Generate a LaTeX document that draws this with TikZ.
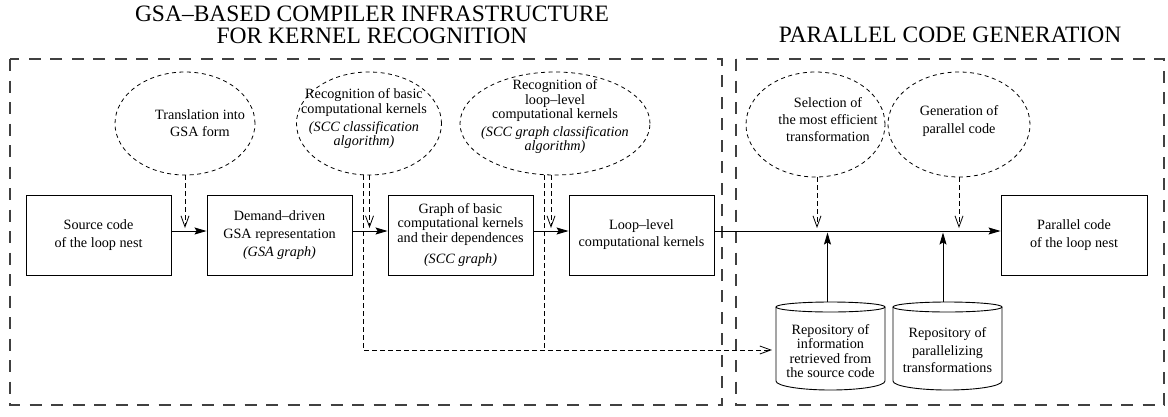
\documentclass[tikz,border=0pt]{standalone}
\usepackage{fontspec}
\setmainfont{Liberation Serif}
\usetikzlibrary{arrows.meta,shapes.geometric}
\begin{document}
\begin{tikzpicture}[x=1pt,y=-1pt,
  txt/.style={font=\fontsize{14.2}{14.5}\selectfont, align=center, inner sep=0pt},
  box/.style={draw, line width=0.9pt, minimum width=145pt, minimum height=80pt, inner sep=0pt, font=\fontsize{14.2}{14.5}\selectfont, align=center},
  bubble/.style={draw, ellipse, dash pattern=on 4pt off 3.5pt, line width=0.8pt, inner sep=0pt},
  frame/.style={draw=black!75, line width=1.1pt, dash pattern=on 12pt off 9.5pt},
  flow/.style={line width=0.9pt, -{Stealth[length=12pt,width=7pt,inset=2pt]}},
  hint/.style={line width=0.8pt, dash pattern=on 4.5pt off 3.5pt, -{Straight Barb[length=11pt,width=8pt]}},
  feed/.style={line width=0.8pt, dash pattern=on 4.5pt off 3.5pt},
  cyl/.style={line width=0.9pt},
  title/.style={font=\fontsize{23.5}{24}\selectfont, inner sep=0pt, anchor=base}
]
\useasboundingbox (0,0) rectangle (1168,416);

% frames
\draw[frame] (10,59) rectangle (722,405);
\draw[frame] (736,59) rectangle (1164,405);

% titles
\node[title] (t1) at (372,21) {GSA–BASED COMPILER INFRASTRUCTURE};
\node[title] (t2) at (372,43) {FOR KERNEL RECOGNITION};
\node[title] (t3) at (950,42) {PARALLEL CODE GENERATION};

% boxes
\node[box] (src) at (98.5,235) {Source code\\[3.5pt]of the loop nest};
\node[box] (gsa) at (279.5,235) {Demand–driven\\[3.5pt]GSA representation\\[3.5pt]\textit{(GSA graph)}};
\node[box] (scc) at (460.5,235) {Graph of basic\\computational kernels\\and their dependences\\[7pt]\textit{(SCC graph)}};
\node[box] (loop) at (641.5,235) {Loop–level\\[2.5pt]computational kernels};
\node[box, minimum width=146pt] (par) at (1074,235) {Parallel code\\[3.5pt]of the loop nest};

% ellipses
\node[bubble, minimum width=140pt, minimum height=103pt] (e1) at (185,123.5) {};
\node[txt] (e1t) at (200,123.5) {Translation into\\[2.5pt]GSA form};
\node[bubble, minimum width=145pt, minimum height=103pt] (e2) at (369,123.5) {};
\node[txt] (e2t) at (364,119) {Recognition of basic\\computational kernels\\[3.5pt]\textit{(SCC classification}\\\textit{algorithm)}};
\node[bubble, minimum width=190pt, minimum height=103pt] (e3) at (555,123.5) {};
\node[txt] (e3t) at (555,117) {Recognition of\\loop–level\\computational kernels\\[3pt]\textit{(SCC graph classification}\\\textit{algorithm)}};
\node[bubble, minimum width=139pt, minimum height=105pt] (e4) at (815.5,124.5) {};
\node[txt] (e4t) at (828,120) {Selection of\\[2.5pt]the most efficient\\[2.5pt]transformation};
\node[bubble, minimum width=142pt, minimum height=105pt] (e5) at (959,124.5) {};
\node[txt] (e5t) at (959,121) {Generation of\\[3.5pt]parallel code};

% cylinders
\node[minimum width=109pt, minimum height=88pt, inner sep=0pt] (c1) at (830.5,346) {};
\draw[cyl] (776,307) -- (776,381) arc[start angle=180,end angle=0,x radius=54.5,y radius=9] -- (885,307);
\draw[cyl] (830.5,307) ellipse[x radius=54.5, y radius=5];
\node[txt] (c1t) at (830.5,351) {Repository of\\information\\retrieved from\\the source code};
\node[minimum width=109pt, minimum height=88pt, inner sep=0pt] (c2) at (947.5,346) {};
\draw[cyl] (893,307) -- (893,381) arc[start angle=180,end angle=0,x radius=54.5,y radius=9] -- (1002,307);
\draw[cyl] (947.5,307) ellipse[x radius=54.5, y radius=5];
\node[txt] (c2t) at (947.5,350) {Repository of\\[3.5pt]parallelizing\\[3pt]transformations};

% main flow
\draw[flow] ([yshift=4pt]src.east) -- ([yshift=4pt]gsa.west);
\draw[flow] ([yshift=4pt]gsa.east) -- ([yshift=4pt]scc.west);
\draw[flow] ([yshift=4pt]scc.east) -- ([yshift=4pt]loop.west);
\draw[flow] ([yshift=4pt]loop.east) -- ([yshift=4pt]par.west);

% dashed hints
\coordinate (h1) at (185,228);
\coordinate (h2) at (369.5,228);
\coordinate (h3) at (551,228);
\coordinate (h4) at (817,228);
\coordinate (h5) at (959,228);
\draw[hint] (e1.south -| h1) -- (h1);
\draw[hint] (e2.south -| h2) -- (h2);
\draw[hint] (e3.south -| h3) -- (h3);
\draw[hint] (e4.south -| h4) -- (h4);
\draw[hint] (e5.south -| h5) -- (h5);

% feedback to repository
\coordinate (f2) at (363,350);
\coordinate (f3) at (544,350);
\coordinate (fb) at (772,350);
\draw[hint] (e2.south -| f2) -- (f2) -- (fb);
\draw[feed] (e3.south -| f3) -- (f3);

% repositories feeding the main line
\coordinate (u1) at (827.5,232.5);
\coordinate (u2) at (943,232.5);
\draw[flow] (c1.north -| u1) -- (u1);
\draw[flow] (c2.north -| u2) -- (u2);
\end{tikzpicture}
\end{document}
